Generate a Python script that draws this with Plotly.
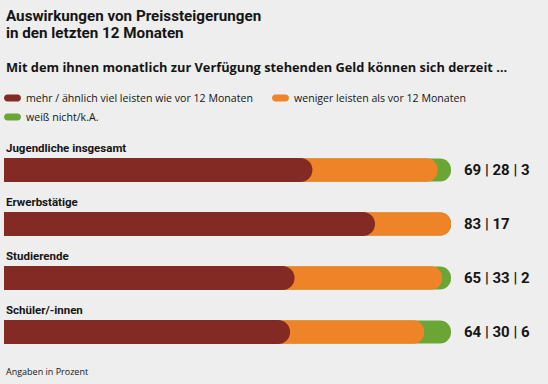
import plotly.graph_objects as go

# ---- data ----
categories = ["Jugendliche insgesamt", "Erwerbstätige", "Studierende", "Schüler/-innen"]
mehr = [69, 83, 65, 64]
weniger = [28, 17, 33, 30]
weiss_nicht = [3, 0, 2, 6]
series_names = ["mehr / ähnlich viel leisten wie vor 12 Monaten",
                "weniger leisten als vor 12 Monaten",
                "weiß nicht/k.A."]

title_lines = ["Auswirkungen von Preissteigerungen", "in den letzten 12 Monaten"]
subtitle = "Mit dem ihnen monatlich zur Verfügung stehenden Geld können sich derzeit …"
footer = "Angaben in Prozent"

# ---- style ----
C_RED = "#842a24"
C_ORA = "#ee8427"
C_GRN = "#6ba535"
BG = "#eeeeee"
TXT = "#151515"
FONT = "Open Sans, Roboto, sans-serif"
FONT_N = "Roboto, Open Sans, sans-serif"

W, H = 548, 384
L, R, T, B = 4, 451, 143, 359  # plot area in pixels
SLOT = (B - T) / 4  # pixels per category


def px(x):
    return (x - L) / (R - L)


def py(y):
    return (B - y) / (B - T)


cum2 = [a + b for a, b in zip(mehr, weniger)]
cum3 = [a + b + c for a, b, c in zip(mehr, weniger, weiss_nicht)]

fig = go.Figure()
# lower layers a hair thinner so their anti-aliased edges stay hidden
for vals, col, name, ax, thick in [(cum3, C_GRN, series_names[2], "y", 23.0),
                                   (cum2, C_ORA, series_names[1], "y2", 23.5),
                                   (mehr, C_RED, series_names[0], "y3", 24.0)]:
    fig.add_trace(go.Bar(
        y=categories, x=vals, orientation="h", name=name, yaxis=ax,
        width=thick / SLOT,
        marker=dict(color=col, cornerradius="50%", line=dict(width=0)),
        showlegend=False, hoverinfo="skip",
    ))

annotations = []
shapes = []

# title (two lines, tight spacing)
for line, yc in zip(title_lines, [16, 33]):
    annotations.append(dict(text="<b>" + line + "</b>", xref="paper", yref="paper",
                            x=px(4), y=py(yc), xanchor="left", yanchor="middle", showarrow=False,
                            font=dict(family=FONT_N, size=15.2, color=TXT)))
annotations.append(dict(text="<b>" + subtitle + "</b>", xref="paper", yref="paper",
                        x=px(4), y=py(67), xanchor="left", yanchor="middle", showarrow=False,
                        font=dict(family=FONT, size=12.8, color=TXT)))


# legend
def pill(x0, yc, color, w=17, h=7):
    r = h / 2
    k = 0.5523 * r
    path = (f"M{r},{-r} H{w - r} C{w - r + k},{-r} {w},{-k} {w},0 "
            f"C{w},{k} {w - r + k},{r} {w - r},{r} H{r} "
            f"C{r - k},{r} 0,{k} 0,0 C0,{-k} {r - k},{-r} {r},{-r} Z")
    return dict(type="path", xref="paper", yref="paper", xsizemode="pixel", ysizemode="pixel",
                xanchor=px(x0), yanchor=py(yc), path=path, fillcolor=color, line=dict(width=0))


legend_items = [(4, 98, C_RED, series_names[0]),
                (272, 98, C_ORA, series_names[1]),
                (4, 117, C_GRN, series_names[2])]
for x0, yc, col, name in legend_items:
    shapes.append(pill(x0, yc, col))
    annotations.append(dict(text=name, xref="paper", yref="paper", x=px(x0 + 20), y=py(yc),
                            xanchor="left", yanchor="middle", showarrow=False,
                            font=dict(family=FONT, size=10.6, color=TXT)))

# category labels and value labels
for i, cat in enumerate(categories):
    annotations.append(dict(text="<b>" + cat + "</b>", xref="x", yref="y", x=0, y=cat,
                            yshift=22, xanchor="left", yanchor="middle", showarrow=False,
                            font=dict(family=FONT_N, size=11.5, color=TXT)))
    parts = [str(v) for v in (mehr[i], weniger[i], weiss_nicht[i]) if v > 0]
    annotations.append(dict(text="<b>" + " | ".join(parts) + "</b>", xref="x", yref="y",
                            x=cum3[i], y=cat, xshift=11, xanchor="left", yanchor="middle",
                            showarrow=False, font=dict(family=FONT_N, size=15, color=TXT)))

annotations.append(dict(text=footer, xref="paper", yref="paper", x=px(4), y=py(371),
                        xanchor="left", yanchor="middle", showarrow=False,
                        font=dict(family=FONT, size=9, color=TXT)))

yax = dict(type="category", range=[len(categories) - 0.5, -0.5], autorange=False,
           visible=False, fixedrange=True,
           categoryorder="array", categoryarray=categories)
fig.update_layout(
    width=W, height=H,
    margin=dict(l=L, r=W - R, t=T, b=H - B, pad=0),
    paper_bgcolor=BG, plot_bgcolor=BG,
    barmode="overlay",
    xaxis=dict(range=[0, 100], visible=False, fixedrange=True),
    yaxis=yax,
    yaxis2=dict(yax, overlaying="y"),
    yaxis3=dict(yax, overlaying="y"),
    annotations=annotations, shapes=shapes,
    showlegend=False,
)

fig.write_html("out.html", config={"displayModeBar": False},
               post_script="document.body.style.margin='0px';")
